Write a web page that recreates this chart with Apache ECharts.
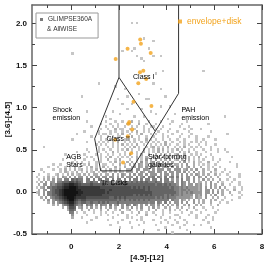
<!DOCTYPE html>
<html><head><meta charset="utf-8">
<script src="https://cdn.jsdelivr.net/npm/echarts@6/dist/echarts.min.js"></script>
<style>html,body{margin:0;padding:0;background:#fff}#c{width:266px;height:266px}</style>
</head><body><div id="c"></div>
<script>
// ---- axes ----
const X_MIN = -1.65, X_MAX = 8, Y_MIN = -0.5, Y_MAX = 2.22;
const xMajorTicks = [0, 2, 4, 6, 8];
const xMinorTicks = [-1, 1, 3, 5, 7];
const yMajorTicks = [-0.5, 0, 0.5, 1, 1.5, 2];
const yMinorTicks = [-0.25, 0.25, 0.75, 1.25, 1.75];

// ---- 2D histogram of GLIMPSE360A & AllWISE sources ----
// cells: x from -1.6 step 0.1, y from -0.5 step 0.03; rows listed from top (y~0.83) to bottom (y=-0.5)
const CELL_X0 = -1.6, CELL_Y0 = -0.5, CELL_DX = 0.1, CELL_DY = 0.03;
const densityRows = [
"..........|..........|..1.......|1...1..1..|.2..1...1.|...1....1.|....1.....|..........|..........|......",
"..........|..........|........1.|..1..1...1|1...2..1..|.1.....1..|..1.......|...1......|..........|......",
"..........|..........|....1.....|1..1.1..1.|.1.1..1..1|1...1.....|.1...1....|..........|..........|......",
"..........|..........|........1.|.1..2.11..|1.1...1.1.|.1.1...1..|...1..1...|1.........|..........|......",
"..........|..........|.1.....1..|..1.1..1.1|.1.2..1.1.|..1...1...|1....1....|....1.....|..........|......",
"..........|........1.|.......1.1|1.1..1.2..|1..1.2...1|.1..1...1.|..1...1...|..........|.1........|......",
"..........|..........|....1...1.|.1.1.11...|.2..1..1..|1...1.1...|.1...1..1.|...1......|..........|......",
"..........|......1...|........1.|1.2..1..1.|..1.1..2.1|.1..1..1..|1..1....1.|.1....1...|..........|......",
"..........|..........|..1....1.1|.1.1.2..1.|1.1..1.1..|1.1..2..1.|.1.1..1.1.|1.1.......|..........|......",
"..........|..........|......1.1.|1..1.1.2.1|.1.2..1..1|.1.1.2.1..|1..1.1...1|..1...1...|..........|......",
"....1.....|..........|.......1..|.1.1.1..1.|1.2.1..1.1|2.1.1.2..1|.1.2..1.1.|1...1.....|..........|......",
"..........|..........|..1....1.1|..1..1.1.2|.1..1.2.1.|1.2.2.1.1.|2.1..1.1..|.1..1..1..|1.........|......",
"..........|........1.|...1...1..|1..2.1..1.|.1.1..2.1.|1.2.1.2.1.|.2.1.2..1.|..1....1..|.1........|......",
"..........|...1......|.1....1.1.|.1.1..1.1.|2..1.2..2.|.2.2.1.2.1|2..2..1.1.|1...1.....|..........|......",
"..........|.....1....|..1.1...1.|1.2..1.1.1|.1.2.1.2..|2.2.3.2.1.|.2.1.2.1.2|..1..1....|...1......|......",
"..........|..1....1..|.1...1..1.|.2..1.2...|1..2.1.3.2|.3.2.2.3.1|2.2..2.1.1|.1...1..1.|..........|......",
"..........|......1.1.|1..1..1.1.|..1.2.1..2|.2.1.3.2.2|3.2.3.2.2.|.2.3.1.2.1|1..2...1..|..1.......|......",
"........1.|.1...1.1..|.1.2..1..1|1..1..2.1.|2.2.32.2.3|2.33.2.3.2|2.2.3..2.1|.1.1..1...|.....1....|......",
"......1...|1..1.1.2.1|..1.2.1..2|.1..2.1.2.|.23.32.3.3|3.3.233.3.|3.2.23.2..|2..1.1..1.|.....1....|......",
"...1....1.|.1.2.1.2.1|2.1.1.2.1.|1.2.1.2..2|23.33.332.|3.333.33.3|33.23.2.3.|.2.1..2...|1.........|......",
"....1.....|.1.21.1.2.|1.2.12.1.2|2.1.2.21.2|23.3.32.33|3.33.3.33.|33.3.2.3.2|.2..2.1..1|..1.......|......",
"..1...1..1|2.1.2.2.12|.2.2.22.2.|22.3.2.32.|3.3.33.3.3|33.3.33.3.|3.3.3.2.32|.2.2..2.1.|.1....1...|......",
".1..1.2.1.|2.32.3.3.3|3.3.3.33.3|3.33.3.3.3|33.4.34.43|4.43.4.34.|4.3.33.3.3|2.3.2..2..|..1...1...|......",
"..1.2.2.3.|33.44.5454|4.44.4.44.|44.4.44.4.|4.44.4.44.|44.4.44.3.|3.4.33.3.2|.3.2.2..2.|.1..1.....|......",
".1.2.3.33.|4455566565|4.44544.44|4544.44454|4545454544|4544.4434.|3.43.3.3.2|2.2.3..2.1|...1..1...|......",
"..2.33.434|5567788776|5555655556|5556555565|5555555555|5455454544|3.43.33.32|3.2.3.2..2|..1...1...|......",
".1.23.4455|6678899987|7777777766|6666666666|6565656565|5555555454|4343433332|3.3.3.2.3.|2...1..1..|......",
"..2.33.456|6789999988|7777777777|6676666666|6666666565|5555555554|4344343332|3.33.3.2.2|.1..2..1..|......",
".12.3.4456|6789999998|8777777777|6766666666|6666666666|5555555555|4343434333|3.33.3.3.2|..2...1...|......",
"..2.3.4455|6789999988|7777777776|6666666666|6656565656|5555545454|4343333.32|3.3.2.3..2|...1...1..|......",
"...2.3.345|5678999877|7766666666|6655656565|5555555555|5454545444|3333332.32|2.3..2.2..|1.....1...|......",
"....2.3.34|4567899765|6655555555|5555545454|5454545454|4444444.43|3.32.2.3.2|.2..2.2..1|...1......|......",
"......2.3.|3456788654|5544544545|4544454444|4444444434|4.43.4.3.3|3.3.3..3.2|.2..2...1.|.1........|......",
"........2.|2.34577543|4.434.3.43|3.4.34.3.4|3.43.3.3.3|3.3.3.3.2.|3..2.3..2.|2...1..2..|..........|......",
"..........|..2.3665.2|3.2.3.2.3.|2.3.2..3.2|.3.2.3..2.|3.2..2.2..|2.2..1.2..|.1...1....|..........|......",
"..........|....2554..|2..2.1..2.|.2..1.2..1|2..1.2..2.|.2..1..2.1|.1..2...1.|..1....1..|..........|......",
"..........|.....44.1.|.1...1..1.|1..1...2..|.1..2..1..|1...1..1..|..1...1...|1.....1...|..........|......",
"..........|......3...|..1.....1.|.1...1...1|...1...2..|.1..1....1|1....1..1.|...1......|..........|......",
"..........|......2...|1.....1...|...1.....1|.1...1....|...1...1..|.1......1.|..1..1....|..........|......",
"..........|..........|....1.....|.1.....1..|...1.1....|1....1...1|...1......|.1...1....|..........|......",
"..........|..........|..1.......|.....1....|1.....1...|...1..1...|1...1.....|...1......|..........|......",
"..........|..........|..........|..1.......|....1.....|.1......1.|...1...1..|1.........|..........|......",
"..........|..........|..........|......1...|.1........|.....1....|.1........|....1.....|..........|......",
"..........|..........|..........|..........|......1...|..1.......|....1.....|..........|..........|......",
"..........|..........|..........|..........|..........|........1.|..........|..........|..........|......"
];
// isolated sources higher up (cell centres)
const sparseCells = [
[0.05,1.645],[1.15,1.285],[0.45,1.135],[2.55,2.005],[2.75,2.005],[3.05,1.825],[3.45,1.795],
[2.15,1.675],[2.55,1.675],[2.65,1.705],[3.25,1.705],[3.45,1.615],[3.75,1.615],[2.95,1.585],
[3.05,1.555],[3.85,1.435],[3.55,1.405],[5.55,1.435],[6.45,0.895],[3.75,1.225],[3.95,1.135],
[3.75,1.015],[3.55,0.925],[3.15,1.105],[3.25,1.105],[3.45,1.285],[2.75,1.615],[2.25,1.225],
[1.95,1.105],[1.75,0.955],[2.05,0.925],[2.35,0.985],[1.65,0.865],[0.65,0.955],[1.85,1.255],
[2.35,1.135],[2.85,1.165],[2.55,1.045],[2.95,0.985],[3.35,0.955],[4.15,1.015],[4.35,0.925],
[4.75,0.985],[2.15,1.045],[1.45,0.895],[2.65,0.895],[3.05,0.895],[4.05,0.865]
];

// ---- envelope+disk YSOs ----
const ysoPoints = [
[2.89,1.81],[2.92,1.76],[2.36,1.70],[3.33,1.65],[1.86,1.58],[3.02,1.44],[2.88,1.42],
[3.14,1.34],[2.81,1.29],[2.61,1.07],[3.36,1.02],[2.43,0.83],[2.39,0.81],[2.55,0.74],
[2.37,0.66],[1.84,0.62],[2.51,0.46],[2.17,0.35]
];

// ---- classification boundaries ----
const classILeftEdge = [[2.0, 2.22], [2.0, 1.36]];
const classIRightEdge = [[3.523, 0.72], [4.5, 1.17], [4.5, 2.22]];
const classIIBoundary = [[1.233, 0.25], [0.979, 0.631], [2.0, 1.36], [3.523, 0.72], [2.5, 0.25], [1.233, 0.25]];

const regionLabels = [
  {x: 2.59, y: 1.37, text: 'Class I'},
  {x: 1.48, y: 0.625, text: 'Class II'},
  {x: -0.79, y: 0.92, text: 'Shock\nemission'},
  {x: 4.62, y: 0.92, text: 'PAH\nemission'},
  {x: -0.21, y: 0.37, text: 'AGB\nStars'},
  {x: 1.24, y: 0.10, text: 'Tr. Disks'},
  {x: 3.22, y: 0.37, text: 'Star-forming\ngalaxies'}
];

const palette = ['#ffffff','#c6c6c6','#adadad','#959595','#7d7d7d','#656565','#4f4f4f','#3a3a3a','#262626','#131313'];
const FONT = "'Liberation Sans', Arial, sans-serif";

// build cells
const cells = [];
densityRows.forEach((row, i) => {
  const r = densityRows.length - 1 - i;
  const s = row.replace(/\|/g, '');
  for (let c = 0; c < s.length; c++) {
    const ch = s[c];
    if (ch >= '1' && ch <= '9') cells.push([CELL_X0 + c * CELL_DX, CELL_Y0 + r * CELL_DY, +ch]);
  }
});
sparseCells.forEach(p => {
  const c = Math.floor((p[0] - CELL_X0) / CELL_DX + 1e-6);
  const r = Math.floor((p[1] - CELL_Y0) / CELL_DY + 1e-6);
  cells.push([CELL_X0 + c * CELL_DX, CELL_Y0 + r * CELL_DY, 1]);
});

function renderCell(params, api) {
  const x = api.value(0), y = api.value(1), lv = api.value(2);
  const a = api.coord([x, y + CELL_DY]), b = api.coord([x + CELL_DX, y]);
  const cs = params.coordSys;
  const x0 = Math.round(Math.max(a[0], cs.x)), x1 = Math.round(Math.min(b[0], cs.x + cs.width));
  const y0 = Math.round(Math.max(a[1], cs.y)), y1 = Math.round(Math.min(b[1], cs.y + cs.height));
  if (x1 <= x0 || y1 <= y0) return null;
  return {type: 'rect', shape: {x: x0, y: y0, width: x1 - x0, height: y1 - y0}, style: {fill: palette[lv]}};
}
function renderLabel(params, api) {
  const L = regionLabels[params.dataIndex];
  const p = api.coord([L.x, L.y]);
  return {type: 'text', x: p[0], y: p[1], style: {text: L.text, fontSize: 7, fontFamily: FONT, fill: '#000', align: 'left', verticalAlign: 'middle', lineHeight: 8}};
}

const frame = {show: true, onZero: false, lineStyle: {color: '#666', width: 1.5}};
const tickStyle = {color: '#444', width: 1};
function xAx(pos, major, withLabel) {
  return {
    type: 'value', position: pos, min: X_MIN, max: X_MAX,
    axisLine: major ? frame : {show: false, onZero: false},
    axisTick: {show: true, inside: true, length: major ? 5 : 3, customValues: major ? xMajorTicks : xMinorTicks, lineStyle: tickStyle},
    axisLabel: withLabel ? {show: true, customValues: xMajorTicks, margin: 9, fontSize: 8, fontWeight: 'bold', color: '#111', fontFamily: FONT} : {show: false},
    splitLine: {show: false},
    name: withLabel ? '[4.5]-[12]' : '', nameLocation: 'middle', nameGap: 20, nameMoveOverlap: false,
    nameTextStyle: {fontSize: 8, fontWeight: 'bold', color: '#111', fontFamily: FONT}
  };
}
function yAx(pos, major, withLabel) {
  return {
    type: 'value', position: pos, min: Y_MIN, max: Y_MAX,
    axisLine: major ? frame : {show: false, onZero: false},
    axisTick: {show: true, inside: true, length: major ? 5 : 3, customValues: major ? yMajorTicks : yMinorTicks, lineStyle: tickStyle},
    axisLabel: withLabel ? {show: true, customValues: yMajorTicks, margin: 5, fontSize: 8, fontWeight: 'bold', color: '#111', fontFamily: FONT, formatter: v => v.toFixed(1)} : {show: false},
    splitLine: {show: false},
    name: withLabel ? '[3.6]-[4.5]' : '', nameLocation: 'middle', nameGap: 20, nameMoveOverlap: false,
    nameTextStyle: {fontSize: 8, fontWeight: 'bold', color: '#111', fontFamily: FONT}
  };
}

const chart = echarts.init(document.getElementById('c'), null, {renderer: 'canvas'});
chart.setOption({
  animation: false,
  backgroundColor: '#fff',
  grid: {left: 32, right: 4, top: 5, bottom: 32, containLabel: false, outerBoundsMode: 'none'},
  xAxis: [xAx('bottom', true, true), xAx('top', true, false), xAx('bottom', false, false), xAx('top', false, false)],
  yAxis: [yAx('left', true, true), yAx('right', true, false), yAx('left', false, false), yAx('right', false, false)],
  legend: [
    {data: [{name: 'GLIMPSE360A & AllWISE', icon: 'rect'}], left: 36, top: 13, itemWidth: 3, itemHeight: 3,
     formatter: () => 'GLIMPSE360A', textStyle: {fontSize: 6.5, color: '#333', fontFamily: FONT},
     backgroundColor: '#fff', borderColor: '#999', borderWidth: 1, borderRadius: 0, padding: [3, 6, 15, 4], selectedMode: false},
    {data: [{name: 'envelope+disk', icon: 'rect'}], left: 178, top: 17, itemWidth: 4, itemHeight: 4,
     textStyle: {fontSize: 8.5, color: '#f2a31c', fontFamily: FONT}, padding: 0, selectedMode: false}
  ],
  graphic: [{type: 'text', left: 47, top: 26, z: 100, style: {text: '& AllWISE', fontSize: 6.5, fill: '#333', fontFamily: FONT}}],
  series: [
    {name: 'GLIMPSE360A & AllWISE', type: 'custom', renderItem: renderCell, data: cells,
     dimensions: ['x', 'y', 'level'], encode: {x: 0, y: 1}, itemStyle: {color: '#7a7a7a'}, z: 1, silent: true},
    {type: 'line', data: classILeftEdge, symbol: 'none', lineStyle: {color: '#333', width: 1}, z: 3, silent: true},
    {type: 'line', data: classIRightEdge, symbol: 'none', lineStyle: {color: '#333', width: 1}, z: 3, silent: true},
    {type: 'line', data: classIIBoundary, symbol: 'none', lineStyle: {color: '#333', width: 1}, z: 3, silent: true},
    {name: 'envelope+disk', type: 'scatter', data: ysoPoints, symbol: 'circle', symbolSize: 4,
     itemStyle: {color: '#f2a31c'}, z: 4, silent: true},
    {type: 'custom', renderItem: renderLabel, data: regionLabels.map(l => [l.x, l.y]), encode: {x: 0, y: 1}, z: 5, silent: true}
  ]
});
</script>
</body></html>
